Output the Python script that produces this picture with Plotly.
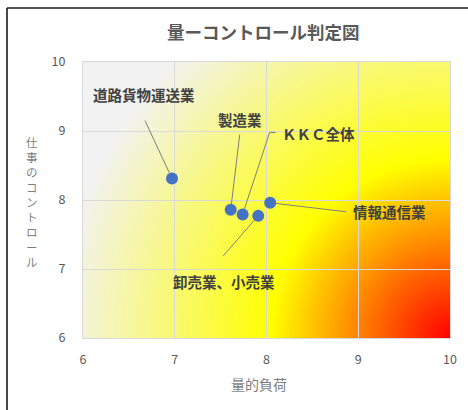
import base64
import plotly.graph_objects as go

# ---- data ----
industries = ["道路貨物運送業", "製造業", "ＫＫＣ全体", "卸売業、小売業", "情報通信業"]
workload = [6.97, 7.61, 7.74, 7.91, 8.04]      # 量的負荷
control = [8.31, 7.86, 7.79, 7.77, 7.96]       # 仕事のコントロール
x_ticks = [6, 7, 8, 9, 10]
y_ticks = [6, 7, 8, 9, 10]
chart_title = "量ーコントロール判定図"
x_title = "量的負荷"
y_title = "仕事のコントロール"

# ---- styling (label offsets in px relative to each point; y up) ----
label_shift = [(-28, 84), (9, 90), (76, 81), (-34, -66), (119, -9)]
leader_paths = [
    [(0, 0), (-27, 58)],
    [(0, 0), (9, 75)],
    [(0, 0), (27, 82), (33, 82)],
    [(0, 0), (-35, -40)],
    [(0, 0), (76, -9)],
]

W, H = 468, 410
L, R, T, B = 83, 18, 62, 72
PW, PH = W - L - R, H - T - B
FONT = "Noto Sans CJK JP"

svg = (
    f"<svg xmlns='http://www.w3.org/2000/svg' width='{PW}' height='{PH}' "
    f"viewBox='0 0 {PW} {PH}' preserveAspectRatio='none'>"
    "<defs><radialGradient id='g' gradientUnits='userSpaceOnUse' "
    f"cx='{PW}' cy='{PH}' r='460'>"
    "<stop offset='0' stop-color='#ff0000'/>"
    "<stop offset='0.39' stop-color='#ffff00'/>"
    "<stop offset='0.85' stop-color='#f2f2f2'/>"
    "<stop offset='1' stop-color='#f2f2f2'/>"
    "</radialGradient></defs>"
    f"<rect x='0' y='0' width='{PW}' height='{PH}' fill='url(#g)'/></svg>"
)
src = "data:image/svg+xml;base64," + base64.b64encode(svg.encode()).decode()

fig = go.Figure()
fig.add_trace(go.Scatter(
    x=workload, y=control, mode="markers",
    marker=dict(size=12, color="#4472c4", line=dict(width=0)),
    hoverinfo="skip", showlegend=False,
))

shapes = []
for xv, yv, pts in zip(workload, control, leader_paths):
    path = "M " + " L ".join(f"{px},{py}" for px, py in pts)
    shapes.append(dict(
        type="path", path=path, xref="x", yref="y",
        xsizemode="pixel", ysizemode="pixel", xanchor=xv, yanchor=yv,
        line=dict(color="#7f7f7f", width=1), layer="between",
    ))

# outer frame lines (left and top)
fx = (7 - L) / PW
fy = (PH + T - 8) / PH
shapes.append(dict(type="line", xref="paper", yref="paper", x0=fx, x1=fx,
                   y0=-0.4, y1=fy, line=dict(color="#1a1a1a", width=1.6)))
shapes.append(dict(type="line", xref="paper", yref="paper", x0=fx, x1=1.2,
                   y0=fy, y1=fy, line=dict(color="#1a1a1a", width=1.6)))

annotations = []
for name, xv, yv, (dx, dy) in zip(industries, workload, control, label_shift):
    annotations.append(dict(
        x=xv, y=yv, xref="x", yref="y", text=f"<b>{name}</b>", showarrow=False,
        xshift=dx, yshift=dy, xanchor="center", yanchor="middle",
        font=dict(family=FONT, size=14.5, color="#404040"),
    ))

annotations.append(dict(
    x=(263 - L) / PW, y=(PH + T - 32) / PH, xref="paper", yref="paper",
    text=f"<b>{chart_title}</b>", showarrow=False, xanchor="center", yanchor="middle",
    font=dict(family=FONT, size=17.5, color="#595959"),
))
annotations.append(dict(
    x=(259 - L) / PW, y=(PH + T - 384) / PH, xref="paper", yref="paper",
    text=x_title, showarrow=False, xanchor="center", yanchor="middle",
    font=dict(family=FONT, size=14, color="#7f7f7f"),
))
annotations.append(dict(
    x=(32 - L) / PW, y=(PH + T - 202) / PH, xref="paper", yref="paper",
    text="<br>".join(list(y_title)), showarrow=False, xanchor="center", yanchor="middle",
    font=dict(family=FONT, size=11.5, color="#7f7f7f"),
))

axis_common = dict(
    range=[6, 10], showgrid=True, gridcolor="#d9d9d9", gridwidth=1,
    showline=True, linecolor="#d9d9d9", linewidth=1, mirror=True,
    zeroline=False, ticks="outside", tickcolor="rgba(0,0,0,0)",
    tickfont=dict(family=FONT, size=12.5, color="#595959"),
    fixedrange=True,
)

fig.update_layout(
    width=W, height=H,
    margin=dict(l=L, r=R, t=T, b=B, pad=0),
    paper_bgcolor="white", plot_bgcolor="#f2f2f2",
    xaxis=dict(axis_common, tickvals=x_ticks, ticktext=[str(v) for v in x_ticks], ticklen=10),
    yaxis=dict(axis_common, tickvals=y_ticks, ticktext=[str(v) for v in y_ticks], ticklen=14),
    images=[dict(source=src, xref="x", yref="y", x=6, y=10, sizex=4, sizey=4,
                 sizing="stretch", xanchor="left", yanchor="top", layer="below")],
    shapes=shapes,
    annotations=annotations,
    showlegend=False,
)

fig.write_html(
    "out.html",
    config={"displayModeBar": False, "staticPlot": True},
    post_script="document.body.style.margin='0';document.body.style.overflow='hidden';",
)
